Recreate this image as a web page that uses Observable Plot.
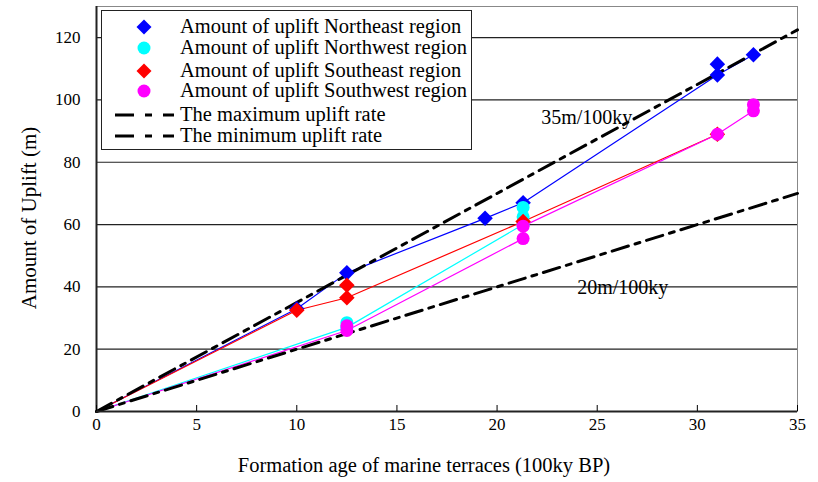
<!DOCTYPE html>
<html><head><meta charset="utf-8">
<script src="https://cdn.jsdelivr.net/npm/d3@7"></script>
<script src="https://cdn.jsdelivr.net/npm/@observablehq/plot@0.6"></script>
<style>
body{margin:0;background:#fff}
#wrap{position:relative;width:818px;height:482px;font-family:"Liberation Serif","Times New Roman",serif}
#chart svg text{font-family:"Liberation Serif","Times New Roman",serif}
#legend{position:absolute;left:101px;top:10px;width:371px;height:140px;border:1.5px solid #222;background:#fff;box-sizing:border-box}
#legend .row{position:absolute;left:0;height:22px;line-height:22px;font-size:20.5px;color:#000;white-space:nowrap}
#legend svg{position:absolute;left:0;top:0}
</style>
</head><body><div id="wrap"><div id="chart"></div><div id="legend"></div></div>
<script>
// ---- data ----
const seriesNames = ["Amount of uplift Northeast region","Amount of uplift Northwest region","Amount of uplift Southeast region","Amount of uplift Southwest region"];
const seriesColors = ["#0000ff","#00ffff","#ff0000","#ff00ff"];
const seriesSymbols = ["diamond2","circle","diamond2","circle"];

const neAge = [0,10,12.5,19.4,21.3,31,32.8];
const neUplift = [0,33,44.5,62,67,108,114.5];
const neExtraAge = [31];
const neExtraUplift = [111.5];

const nwAge = [0,12.5,21.3];
const nwUplift = [0,27,60];
const nwExtraAge = [12.5,21.3,21.3];
const nwExtraUplift = [28.5,62.5,65.5];

const seAge = [0,10,12.5,21.3,31];
const seUplift = [0,32.5,36.5,61,89];
const seExtraAge = [12.5];
const seExtraUplift = [40.5];

const swAge = [0,12.5,21.3,21.3,31,32.8];
const swUplift = [0,26,55.5,59.5,89,96.5];
const swExtraAge = [12.5,32.8];
const swExtraUplift = [27.5,98.5];

const rateNames = ["The maximum uplift rate","The minimum uplift rate"];
const rateAge = [0,35];
const maxRateUplift = [0,122.5];
const minRateUplift = [0,70];
const rateLabels = ["35m/100ky","20m/100ky"];
const rateLabelAge = [22.2,24];
const rateLabelUplift = [94.3,39.8];

const xTicks = [0,5,10,15,20,25,30,35];
const yTicks = [0,20,40,60,80,100,120];
const xTitle = "Formation age of marine terraces (100ky BP)";
const yTitle = "Amount of Uplift (m)";

// ---- build ----
const mainAges = [neAge,nwAge,seAge,swAge];
const mainUps = [neUplift,nwUplift,seUplift,swUplift];
const extraAges = [neExtraAge,nwExtraAge,seExtraAge,swExtraAge];
const extraUps = [neExtraUplift,nwExtraUplift,seExtraUplift,swExtraUplift];
const pts = (ax, ay, s) => ax.map((x, i) => ({x, y: ay[i], s}));
const lineData = seriesNames.map((_, s) => pts(mainAges[s], mainUps[s], s));
// the origin is a line start only (no marker in the original)
const dotData = seriesNames.map((_, s) => [...pts(mainAges[s], mainUps[s], s), ...pts(extraAges[s], extraUps[s], s)].filter(d => d.x > 0));
const rateData = [pts(rateAge, maxRateUplift, 0), pts(rateAge, minRateUplift, 1)];
const labelData = rateLabels.map((t, i) => ({t, x: rateLabelAge[i], y: rateLabelUplift[i]}));
const dash = "17,7,5,7";
const serif = '"Liberation Serif","Times New Roman",serif';

const marks = [
  Plot.frame({stroke: "#888", strokeWidth: 1}),
  Plot.ruleY(yTicks.filter(v => v > 0), {stroke: "#222", strokeWidth: 1.2}),
  ...lineData.map((d, s) => Plot.line(d, {x: "x", y: "y", stroke: seriesColors[s], strokeWidth: 1.2})),
  ...rateData.map(d => Plot.line(d, {x: "x", y: "y", stroke: "#000", strokeWidth: 3, strokeDasharray: dash})),
  ...dotData.map((d, s) => Plot.dot(d, {x: "x", y: "y", symbol: seriesSymbols[s], fill: seriesColors[s], stroke: "none", r: seriesSymbols[s] === "circle" ? 6.5 : 7})),
  Plot.text(labelData, {x: "x", y: "y", text: "t", textAnchor: "start", fontSize: 20, fill: "#000", fontFamily: serif}),
  Plot.ruleX([0], {stroke: "#222", strokeWidth: 2}),
  Plot.ruleY([0], {stroke: "#222", strokeWidth: 2}),
  Plot.axisX({ticks: xTicks, tickSize: -6, tickPadding: 12, fontSize: 17, fontFamily: serif, tickFormat: d => d}),
  Plot.axisY({ticks: yTicks, tickSize: 0, tickPadding: 16, fontSize: 17, fontFamily: serif, tickFormat: d => d}),
  Plot.text([xTitle], {frameAnchor: "bottom", dx: -23, dy: 60, fontSize: 20.5, fill: "#000", fontFamily: serif}),
  Plot.text([yTitle], {frameAnchor: "left", textAnchor: "middle", dx: -67, dy: 9, rotate: -90, fontSize: 21, fill: "#000", fontFamily: serif})
];

const chart = Plot.plot({
  width: 818, height: 482,
  marginLeft: 96, marginRight: 21, marginTop: 6, marginBottom: 71,
  x: {domain: [0,35], label: null},
  y: {domain: [0,130], label: null},
  style: {fontFamily: serif, color: "#000", background: "#fff"},
  marks
});
d3.select(chart).selectAll("text").style("font-family", serif);
document.getElementById("chart").appendChild(chart);

// ---- legend ----
const legend = document.getElementById("legend");
const rowY = [16, 37, 60, 80, 104, 125];
const ns = "http://www.w3.org/2000/svg";
const svg = document.createElementNS(ns, "svg");
svg.setAttribute("width", 371); svg.setAttribute("height", 140);
legend.appendChild(svg);
const allNames = [...seriesNames, ...rateNames];
allNames.forEach((name, i) => {
  const cy = rowY[i];
  if (i < 4) {
    if (seriesSymbols[i] === "circle") {
      const c = document.createElementNS(ns, "circle");
      c.setAttribute("cx", 42); c.setAttribute("cy", cy); c.setAttribute("r", 6.5);
      c.setAttribute("fill", seriesColors[i]); svg.appendChild(c);
    } else {
      const p = document.createElementNS(ns, "path");
      p.setAttribute("d", `M42,${cy-7.5}L49.5,${cy}L42,${cy+7.5}L34.5,${cy}Z`);
      p.setAttribute("fill", seriesColors[i]); svg.appendChild(p);
    }
  } else {
    const l = document.createElementNS(ns, "line");
    l.setAttribute("x1", 13); l.setAttribute("x2", 72); l.setAttribute("y1", cy); l.setAttribute("y2", cy);
    l.setAttribute("stroke", "#000"); l.setAttribute("stroke-width", 3);
    l.setAttribute("stroke-dasharray", "19,11,7,11");
    svg.appendChild(l);
  }
  const row = document.createElement("div");
  row.className = "row";
  row.style.left = "78px";
  row.style.top = (cy - 12) + "px";
  row.textContent = name;
  legend.appendChild(row);
});
</script>
</body></html>
